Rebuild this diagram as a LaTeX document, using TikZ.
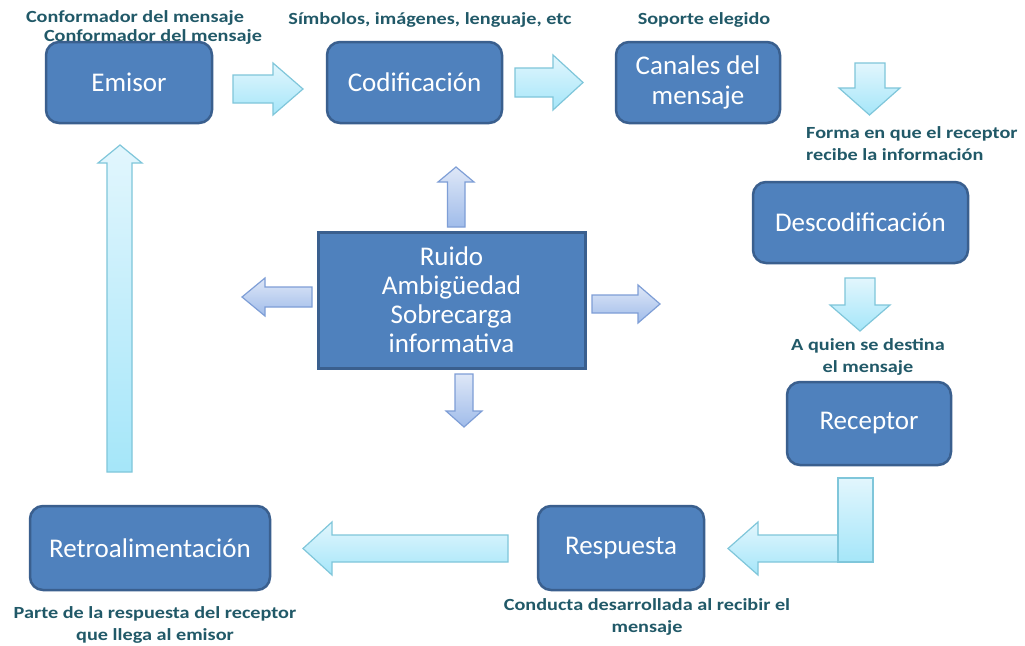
\documentclass[tikz,border=0pt]{standalone}
\usepackage{fontspec}
\setmainfont{Carlito}
\newfontfamily\lblfont[FakeStretch=1.19]{Carlito}
\definecolor{boxfill}{HTML}{4F81BD}
\definecolor{boxline}{HTML}{3A5F8E}
\definecolor{lblcol}{HTML}{215968}
\definecolor{cyanlight}{HTML}{E2F6FD}
\definecolor{cyandark}{HTML}{A5E6F9}
\definecolor{cyanline}{HTML}{7FC6DA}
\definecolor{bluelight}{HTML}{DEE7F7}
\definecolor{bluedark}{HTML}{A0BCEA}
\definecolor{blueline}{HTML}{7E9ED6}
\tikzset{
  stage/.style={draw=boxline, line width=2.5pt, fill=boxfill, rounded corners=13pt,
    text=white, font=\fontsize{27}{30}\selectfont, align=center, inner sep=0pt},
  centre/.style={draw=boxline, line width=3pt, fill=boxfill,
    text=white, font=\fontsize{27}{29}\selectfont, align=center, inner sep=0pt},
  lbl/.style={text=lblcol, font={\lblfont\fontsize{17}{22}\selectfont\bfseries}, inner sep=0pt},
  carrow/.style={draw=cyanline, line width=1.2pt, top color=cyanlight, bottom color=cyandark, line join=miter},
  barrow/.style={draw=blueline, line width=1.2pt, top color=bluelight, bottom color=bluedark, line join=miter}
}
\begin{document}
\begin{tikzpicture}[x=1pt,y=-1pt]
\useasboundingbox[fill=white] (0,0) rectangle (1025,645);

% boxes
\node[stage, minimum width=166pt, minimum height=81pt] (emisor) at (129,82.5) {Emisor};
\node[stage, minimum width=175pt, minimum height=81pt] (codif) at (414.5,82.5) {Codificación};
\node[stage, minimum width=164pt, minimum height=81pt] (canales) at (698,82.5) {Canales del\\mensaje};
\node[stage, minimum width=215pt, minimum height=81pt] (descod) at (860.5,222.5) {Descodificación};
\node[stage, minimum width=164pt, minimum height=83pt] (receptor) at (869,423.5) {Receptor};
\node[stage, minimum width=166pt, minimum height=84pt] (respuesta) at (621,548) {Respuesta};
\node[stage, minimum width=240pt, minimum height=84pt] (retro) at (150,548) {Retroalimentación};
\node[centre, minimum width=267pt, minimum height=136pt] (ruido) at (451.5,300) {Ruido\\Ambigüedad\\Sobrecarga\\informativa};

% labels
\node[lbl] (l1) at (135,18) {Conformador del mensaje};
\node[lbl] (l2) at (153,37) {Conformador del mensaje};
\node[lbl] (l3) at (430,20) {Símbolos, imágenes, lenguaje, etc};
\node[lbl] (l4) at (704,20) {Soporte elegido};
\node[lbl, align=left, anchor=west] (l5) at (806,144) {Forma en que el receptor\\recibe la información};
\node[lbl, align=center] (l6) at (868,357) {A quien se destina\\el mensaje};
\node[lbl, align=center] (l7) at (155,625) {Parte de la respuesta del receptor\\que llega al emisor};
\node[lbl, align=center] (l8) at (647,617) {Conducta desarrollada al recibir el\\mensaje};

% cyan block arrows
\draw[carrow] (233,75) -- (273,75) -- (273,63) -- (303,89) -- (273,115) -- (273,103) -- (233,103) -- cycle;
\draw[carrow] (515,68) -- (553,68) -- (553,55) -- (583,82.5) -- (553,110) -- (553,97) -- (515,97) -- cycle;
\draw[carrow] (855,63) -- (885,63) -- (885,88) -- (900,88) -- (869.5,115) -- (839,88) -- (855,88) -- cycle;
\draw[carrow] (845,278) -- (875,278) -- (875,305) -- (890,305) -- (860,331) -- (830,305) -- (845,305) -- cycle;
\draw[carrow] (845,535) -- (758,535) -- (758,522) -- (728,548.5) -- (758,575) -- (758,562) -- (845,562) -- cycle;
\draw[carrow] (838,478) rectangle (873,562);
\draw[carrow] (508,535) -- (332,535) -- (332,522) -- (303,548.5) -- (332,575) -- (332,562) -- (508,562) -- cycle;
\draw[carrow] (107,472) -- (107,163) -- (98,163) -- (120,145) -- (142,163) -- (132,163) -- (132,472) -- cycle;

% blue block arrows around the centre box
\draw[barrow] (447.5,227) -- (447.5,182) -- (438,182) -- (456,167) -- (474,182) -- (465,182) -- (465,227) -- cycle;
\draw[barrow] (312,287) -- (265,287) -- (265,278) -- (242,297) -- (265,316) -- (265,307) -- (312,307) -- cycle;
\draw[barrow] (592,295) -- (638,295) -- (638,285) -- (660,304) -- (638,323) -- (638,313) -- (592,313) -- cycle;
\draw[barrow] (455,374) -- (473,374) -- (473,411) -- (482,411) -- (464,427) -- (446,411) -- (455,411) -- cycle;
\end{tikzpicture}
\end{document}
